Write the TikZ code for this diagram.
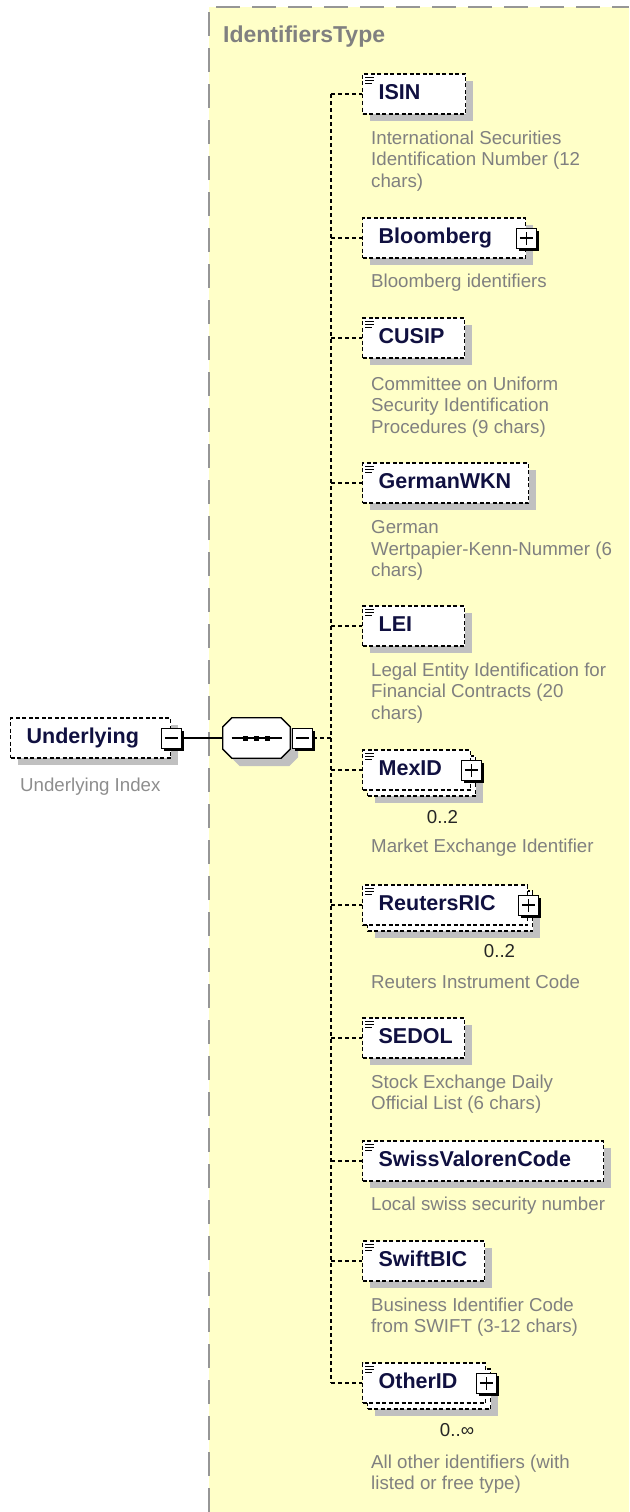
\documentclass[tikz,border=0pt]{standalone}
\usepackage{fontspec}
\setmainfont{Liberation Sans}
\usetikzlibrary{positioning,calc,shadows}
\definecolor{BgYellow}{RGB}{255,255,200}
\definecolor{ShGray}{RGB}{192,192,192}
\definecolor{FrameGray}{RGB}{150,150,150}
\definecolor{DocGray}{RGB}{128,128,128}
\definecolor{NameBlue}{RGB}{16,16,64}
\newcommand{\namefont}{\fontsize{21.5}{24}\selectfont\bfseries}
\newcommand{\docfont}{\fontsize{18.7}{21.5}\selectfont}
\newcommand{\typeicon}[1]{%
  \draw[iconline] ([xshift=3pt,yshift=-4pt]#1.north west) -- ++(9pt,0pt)
                  ([xshift=3pt,yshift=-7pt]#1.north west) -- ++(9pt,0pt)
                  ([xshift=3pt,yshift=-10pt]#1.north west) -- ++(7pt,0pt);}
% octagon of a sequence compositor, around the node #1
\newcommand{\seqoutline}[1]{([xshift=9pt]#1.north west) -- ([xshift=-9pt]#1.north east)
  -- ([yshift=-9pt]#1.north east) -- ([yshift=9pt]#1.south east)
  -- ([xshift=-9pt]#1.south east) -- ([xshift=9pt]#1.south west)
  -- ([yshift=9pt]#1.south west) -- ([yshift=-9pt]#1.north west) -- cycle}
\tikzset{
  dbox/.style={draw=black,line width=1.3pt,dash pattern=on 4pt off 2.5pt,fill=white,
               minimum height=40pt,inner xsep=16pt,inner ysep=0pt,
               text height=15pt,text depth=4pt,font=\namefont,text=NameBlue,
               align=left,anchor=west},
  boxshadow/.style={general shadow={fill=ShGray,shadow xshift=7pt,shadow yshift=-7pt}},
  elem/.style={dbox,boxshadow,text width=#1},
  multifront/.style={dbox,text width=#1},
  multiback/.style={dbox,boxshadow,minimum width=#1},
  toggle/.style={draw=black,solid,line width=1pt,fill=white,minimum size=20pt,inner sep=0pt,
                 general shadow={fill=black,shadow xshift=2.5pt,shadow yshift=-2.5pt}},
  minusbox/.style={toggle,path picture={
      \draw[line width=1.4pt] ([xshift=-6.5pt]path picture bounding box.center)
                              -- ([xshift=6.5pt]path picture bounding box.center);}},
  plusbox/.style={toggle,path picture={
      \draw[line width=1.4pt] ([xshift=-6.5pt]path picture bounding box.center)
                              -- ([xshift=6.5pt]path picture bounding box.center)
                              ([yshift=-6.5pt]path picture bounding box.center)
                              -- ([yshift=6.5pt]path picture bounding box.center);}},
  seqbox/.style={minimum width=67pt,minimum height=40pt,inner sep=0pt},
  docnote/.style={font=\docfont,text=DocGray,align=left,inner sep=0pt,anchor=north west},
  mult/.style={font=\docfont,text=black!85,inner sep=0pt},
  typename/.style={font=\fontsize{23}{25}\selectfont\bfseries,text=DocGray,inner sep=0pt},
  iconline/.style={line width=1pt,black},
  link/.style={draw=black,line width=1.3pt,dash pattern=on 4pt off 3pt},
  solidlink/.style={draw=black,line width=1.3pt},
  frame/.style={draw=FrameGray,line width=2pt,dash pattern=on 24pt off 12pt},
}
\begin{document}
\begin{tikzpicture}[x=1pt,y=-1pt]
  \useasboundingbox (0,0) rectangle (629,1512);
  % complex type area
  \fill[BgYellow] (209,7) rectangle (629,1512);
  \draw[frame] (209,1512) -- (209,7) -- (629,7);
  \node[typename,anchor=base west] (typelabel) at (223,43) {IdentifiersType};

  % root element and sequence
  \node[elem=128] (underlying) at (10,738) {Underlying};
  \node[minusbox] (underminus) at (underlying.east) {};
  \node[docnote,text=DocGray!90] (underdoc) at ([xshift=10pt,yshift=-19pt]underlying.south west) {Underlying Index};
  \node[seqbox] (seq) at (256.5,738) {};
  \node[seqbox] (seqshadow) at ([xshift=8pt,yshift=-8pt]seq.center) {};
  \fill[ShGray] \seqoutline{seqshadow};
  \filldraw[fill=white,draw=black,line width=1.3pt] \seqoutline{seq};
  \draw[line width=1.3pt] ([xshift=-25pt]seq.center) -- ([xshift=25pt]seq.center);
  \foreach \dx in {-11,0,11}
    \fill ([xshift=\dx pt]seq.center) ++(-2.5pt,-2.5pt) rectangle ++(5pt,5pt);
  \node[minusbox,right=2pt of seq] (seqminus) {};
  \coordinate (bus) at (331,738);

  % children
  \node[elem=71] (isin) at (362,94) {ISIN};
  \node[elem=131] (bloomberg) at (362,238) {Bloomberg};
  \node[elem=70] (cusip) at (362,338) {CUSIP};
  \node[elem=134] (germanwkn) at (362,483) {GermanWKN};
  \node[elem=70] (lei) at (362,626) {LEI};
  \node[multiback=108] (mexidback) at (367,776) {};
  \node[multifront=76] (mexid) at (362,770) {MexID};
  \node[multiback=165] (reutersback) at (367,911) {};
  \node[multifront=133] (reutersric) at (362,905) {ReutersRIC};
  \node[elem=70] (sedol) at (362,1038) {SEDOL};
  \node[elem=209] (swissvalor) at (362,1161) {SwissValorenCode};
  \node[elem=90] (swiftbic) at (362,1261) {SwiftBIC};
  \node[multiback=123] (otherback) at (367,1389) {};
  \node[multifront=91] (otherid) at (362,1383) {OtherID};

  \foreach \n in {isin,cusip,germanwkn,lei,mexid,reutersric,sedol,swissvalor,swiftbic,otherid}
    {\typeicon{\n}}

  \node[plusbox] (bloombergplus) at (bloomberg.east) {};
  \node[plusbox] (mexidplus) at (mexid.east) {};
  \node[plusbox] (reutersplus) at (reutersric.east) {};
  \node[plusbox] (otherplus) at (otherid.east) {};

  % occurrences
  \node[mult,below left=14pt and 18pt of mexidback.south east] (mexidmult) {0..2};
  \node[mult,below left=13pt and 18pt of reutersback.south east] (reutersmult) {0..2};
  \node[mult,below left=14pt and 17pt of otherback.south east] (othermult) {0..∞};

  % annotations
  \node[docnote] (isindoc) at ([xshift=9pt,yshift=-16pt]isin.south west)
    {International Securities\\Identification Number (12\\chars)};
  \node[docnote] (bloombergdoc) at ([xshift=9pt,yshift=-15pt]bloomberg.south west)
    {Bloomberg identifiers};
  \node[docnote] (cusipdoc) at ([xshift=9pt,yshift=-18pt]cusip.south west)
    {Committee on Uniform\\Security Identification\\Procedures (9 chars)};
  \node[docnote] (germanwkndoc) at ([xshift=9pt,yshift=-17pt]germanwkn.south west)
    {German\\Wertpapier-Kenn-Nummer (6\\chars)};
  \node[docnote] (leidoc) at ([xshift=9pt,yshift=-16pt]lei.south west)
    {Legal Entity Identification for\\Financial Contracts (20\\chars)};
  \node[docnote] (mexiddoc) at ($(mexidmult.south -| mexid.west)+(9pt,-14pt)$)
    {Market Exchange Identifier};
  \node[docnote] (reutersdoc) at ($(reutersmult.south -| reutersric.west)+(9pt,-16pt)$)
    {Reuters Instrument Code};
  \node[docnote] (sedoldoc) at ([xshift=9pt,yshift=-16pt]sedol.south west)
    {Stock Exchange Daily\\Official List (6 chars)};
  \node[docnote] (swissvalordoc) at ([xshift=9pt,yshift=-15pt]swissvalor.south west)
    {Local swiss security number};
  \node[docnote] (swiftbicdoc) at ([xshift=9pt,yshift=-16pt]swiftbic.south west)
    {Business Identifier Code\\from SWIFT (3-12 chars)};
  \node[docnote] (otheriddoc) at ($(othermult.south -| otherid.west)+(9pt,-17pt)$)
    {All other identifiers (with\\listed or free type)};

  % connectors
  \draw[solidlink] (underminus.east) -- (seq.west);
  \draw[link] (seqminus.east) -- (bus);
  \draw[link] (isin.west -| bus) -- (otherid.west -| bus);
  \foreach \n in {isin,bloomberg,cusip,germanwkn,lei,mexid,reutersric,sedol,swissvalor,swiftbic,otherid}
    \draw[link] (\n.west -| bus) -- (\n.west);
\end{tikzpicture}
\end{document}
